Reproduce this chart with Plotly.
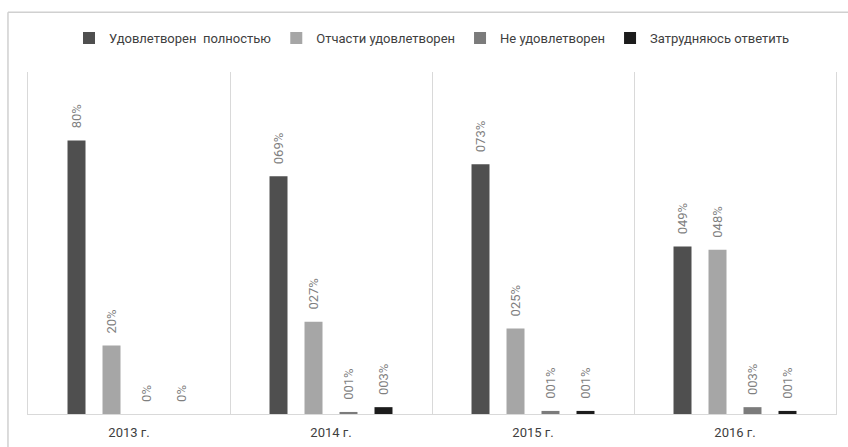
import plotly.graph_objects as go

categories = ["2013 г.", "2014 г.", "2015 г.", "2016 г."]
series_names = ["Удовлетворен  полностью", "Отчасти удовлетворен", "Не удовлетворен", "Затрудняюсь ответить"]
full = [80, 69.5, 73, 49]
partly = [20, 27, 25, 48]
notsat = [0, 0.6, 0.9, 2]
hard = [0, 2, 0.9, 0.9]
full_labels = ["80%", "069%", "073%", "049%"]
partly_labels = ["20%", "027%", "025%", "048%"]
notsat_labels = ["0%", "001%", "001%", "003%"]
hard_labels = ["0%", "003%", "001%", "001%"]
colors = ["#4f4f4f", "#a6a6a6", "#7b7b7b", "#1c1c1c"]

FONT = "Roboto, 'Liberation Sans', sans-serif"
pad = "\u00a0\u00a0\u2009"

fig = go.Figure()
for name, vals, labs, col in zip(series_names, [full, partly, notsat, hard],
                                 [full_labels, partly_labels, notsat_labels, hard_labels], colors):
    fig.add_trace(go.Bar(
        name=name, x=categories, y=vals,
        text=[pad + t for t in labs], textposition="outside", textangle=-90,
        textfont=dict(size=13, color="#7f7f7f", family=FONT),
        constraintext="none", cliponaxis=False,
        marker=dict(color=col, line=dict(width=0)),
    ))

fig.update_layout(
    width=848, height=447,
    margin=dict(l=28, r=12, t=72, b=33, autoexpand=False),
    paper_bgcolor="white", plot_bgcolor="white",
    barmode="group", bargap=0.307, bargroupgap=0.486,
    font=dict(family=FONT, size=13, color="#404040"),
    legend=dict(orientation="h", x=0.5, xanchor="center", y=1.099, yanchor="middle",
                font=dict(size=13, color="#404040"), itemwidth=30, traceorder="normal"),
    showlegend=True,
    xaxis=dict(showline=True, linecolor="#d9d9d9", linewidth=1, tickson="boundaries",
               showgrid=True, gridcolor="#d9d9d9", gridwidth=1, ticks="", ticklen=0,
               ticklabelstandoff=6, automargin=False,
               tickfont=dict(size=13, color="#404040"), fixedrange=True),
    yaxis=dict(range=[0, 100], showline=True, mirror=True, linecolor="#d9d9d9", linewidth=1,
               showgrid=False, zeroline=False, showticklabels=False, ticks="", automargin=False),
    shapes=[
        dict(type="line", xref="paper", yref="paper", x0=-0.0248, x1=-0.0248, y0=-0.15, y1=1.175,
             line=dict(color="#d0d0d0", width=1.5), layer="above"),
        dict(type="line", xref="paper", yref="paper", x0=-0.0248, x1=1.05, y0=1.175, y1=1.175,
             line=dict(color="#d0d0d0", width=1.5), layer="above"),
    ],
)

fig.write_html("out.html", config={"displayModeBar": False},
               post_script="document.body.style.margin='0';document.body.style.overflow='hidden';")
